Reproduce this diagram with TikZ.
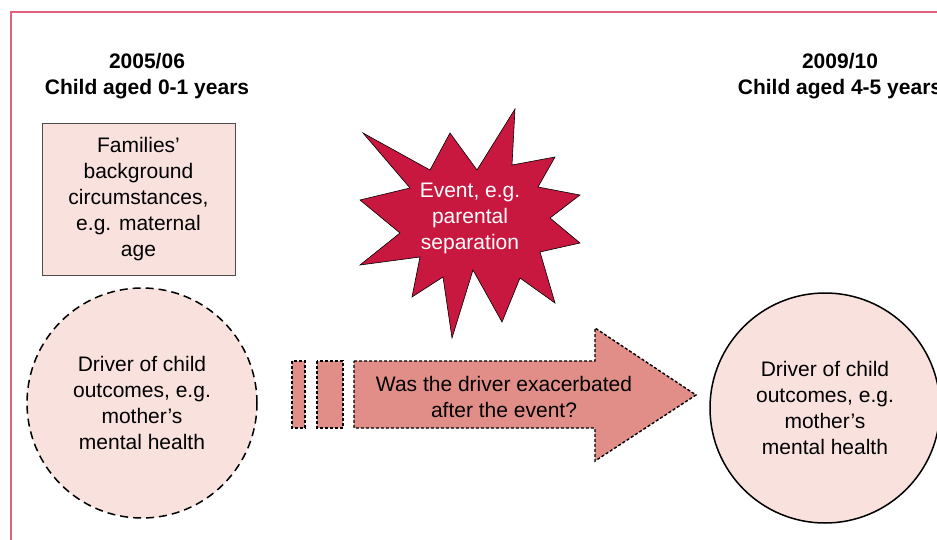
\documentclass[tikz,border=0pt]{standalone}
\usepackage{fontspec}
\setmainfont{Liberation Sans}
\definecolor{framepink}{RGB}{226,98,124}
\definecolor{palepink}{RGB}{249,225,221}
\definecolor{arrowpink}{RGB}{226,142,136}
\definecolor{crimson}{RGB}{201,24,63}

\begin{document}
\begin{tikzpicture}[x=1pt,y=-1pt,
        every node/.style={align=center,font=\fontsize{21}{26}\selectfont},
        heading/.style={font=\fontsize{21}{26}\selectfont\bfseries},
        driver/.style={circle,draw,line width=1.5pt,fill=palepink,minimum size=230pt},
        background box/.style={rectangle,draw=black!70,line width=1pt,fill=palepink,minimum width=193pt,minimum height=151pt},
        dotbox/.style={draw,line width=1.4pt,dash pattern=on 3pt off 2pt,fill=arrowpink}]

    \useasboundingbox (0,0) rectangle (937,540);
    \fill[white] (0,0) rectangle (937,540);

    % frame
    \draw[framepink,line width=1.5pt] (11,545) -- (11,12) -- (945,12);

    % headings
    \node[heading] (yearA) at (147,76) {2005/06\\Child aged 0-1 years};
    \node[heading] (yearB) at (840,76) {2009/10\\Child aged 4-5 years};

    % first wave
    \node[background box] (famBg) at (138.5,199.5) {Families'\\background\\circumstances,\\e.g. maternal\\age};
    \node[driver,dashed,dash pattern=on 8pt off 5pt] (drvA) at (142,403) {Driver of child\\outcomes, e.g.\\mother's\\mental health};

    % event
    \fill[crimson,draw=black,line width=0.6pt]
        (515,109) -- (512,165) -- (555,157) -- (538,187) -- (580,195) -- (550,218)
        -- (580,243) -- (540,252) -- (555,303) -- (520,278) -- (502,322) -- (473,270)
        -- (452,338) -- (443,277) -- (412,297) -- (420,257) -- (360,265) -- (400,233)
        -- (360,200) -- (410,188) -- (363,133) -- (430,170) -- (450,133) -- (477,170) -- cycle;
    \node[text=white] (event) at (470,218) {Event, e.g.\\parental\\separation};

    % arrow
    \draw[dotbox] (292,361) rectangle (305,428);
    \draw[dotbox] (317,361) rectangle (343,428);
    \draw[dotbox] (354,361) -- (595,361) -- (595,328) -- (696,395)
        -- (595,461) -- (595,428) -- (354,428) -- cycle;
    \node (question) at (504,397) {Was the driver exacerbated\\after the event?};

    % second wave
    \node[driver] (drvB) at (825,408) {Driver of child\\outcomes, e.g.\\mother's\\mental health};
\end{tikzpicture}
\end{document}
